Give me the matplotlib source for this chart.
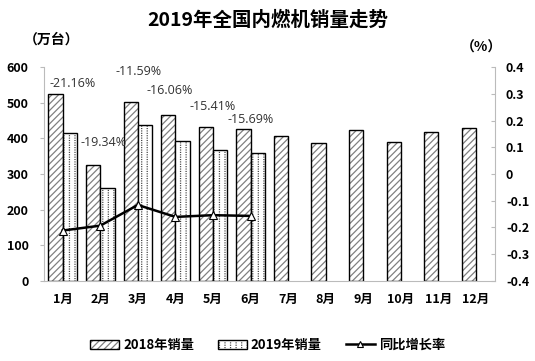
import matplotlib
matplotlib.use("Agg")
from matplotlib import pyplot as plt
from matplotlib.patches import Patch
from matplotlib.lines import Line2D
import numpy as np

plt.rcParams['font.family'] = ['Noto Sans CJK SC', 'DejaVu Sans']
plt.rcParams['hatch.linewidth'] = 0.9

months = ["1月", "2月", "3月", "4月", "5月", "6月",
          "7月", "8月", "9月", "10月", "11月", "12月"]
sales_2018 = [525, 324, 502, 466, 433, 425, 408, 387, 424, 389, 419, 429]
sales_2019 = [414, 261, 438, 392, 367, 359]
growth = [-0.2116, -0.1934, -0.1159, -0.1606, -0.1541, -0.1569]
growth_labels = ["-21.16%", "-19.34%", "-11.59%", "-16.06%", "-15.41%", "-15.69%"]
# where the labels sit (category index, left-axis value)
label_pos = [(0.27, 553), (1.1, 388), (2.03, 589), (2.85, 534), (4.0, 489), (5.0, 452)]

fig = plt.figure(figsize=(5.35, 3.61), dpi=100)
ax = fig.add_axes([0.082, 0.222, 0.843, 0.592])
ax2 = ax.twinx()

x = np.arange(len(months))
x19 = np.arange(len(sales_2019))
w = 0.38

# 2018: grey diagonal hatch, black outline
ax.bar(x - w / 2, sales_2018, w, facecolor='white', edgecolor='#808080',
       hatch='/////', linewidth=0)
ax.bar(x - w / 2, sales_2018, w, facecolor='none', edgecolor='black', linewidth=1.0)
# 2019: vertical dashed lines (vertical hatch broken by white horizontal hatch)
ax.bar(x19 + w / 2, sales_2019, w, facecolor='white', edgecolor='#404040',
       hatch='|||', linewidth=0)
ax.bar(x19 + w / 2, sales_2019, w, facecolor='none', edgecolor='white',
       hatch='-------', linewidth=0)
ax.bar(x19 + w / 2, sales_2019, w, facecolor='none', edgecolor='black', linewidth=1.0)

ax.set_xlim(-0.5, len(months) - 0.5)
ax.set_ylim(0, 600)
ax.set_yticks(range(0, 601, 100))
ax.set_xticks(x)
ax.set_xticklabels(months, fontweight='bold', fontsize=9)
ax.tick_params(axis='x', length=0, pad=9)
ax.tick_params(axis='y', labelsize=9, length=3, color='#bbbbbb', pad=8)
for lab in ax.get_yticklabels():
    lab.set_fontweight('bold')
for s in ['top', 'right']:
    ax.spines[s].set_visible(False)
for s in ['left', 'bottom']:
    ax.spines[s].set_color('#bbbbbb')

ax2.plot(x19, growth, color='black', linewidth=1.8, marker='^',
         markersize=6, markerfacecolor='white', markeredgecolor='black',
         markeredgewidth=0.8)
ax2.set_ylim(-0.4, 0.4)
ax2.set_yticks(np.round(np.arange(-0.4, 0.41, 0.1), 1))
ax2.set_yticklabels(["-0.4", "-0.3", "-0.2", "-0.1", "0", "0.1", "0.2", "0.3", "0.4"],
                    fontweight='bold', fontsize=9)
ax2.tick_params(axis='y', length=3, direction='in', color='#bbbbbb', pad=8)
for s in ['top', 'left', 'bottom']:
    ax2.spines[s].set_visible(False)
ax2.spines['right'].set_color('#bbbbbb')

for txt, (px, py) in zip(growth_labels, label_pos):
    ax.text(px, py, txt, ha='center', va='center', fontsize=9, color='#333333',
            family=['Open Sans', 'DejaVu Sans'])

fig.text(0.5, 0.945, "2019年全国内燃机销量走势", ha='center', va='center',
         fontsize=14, fontweight='bold')
fig.text(0.097, 0.89, "（万台）", ha='center', va='center', fontsize=10, fontweight='bold')
fig.text(0.9, 0.868, "（%）", ha='center', va='center', fontsize=10, fontweight='bold')

h2018 = Patch(facecolor='white', edgecolor='#808080', hatch='/////', linewidth=0)
h2018b = Patch(facecolor='none', edgecolor='black', linewidth=1.0)
h2019 = Patch(facecolor='white', edgecolor='#404040', hatch='|||', linewidth=0)
h2019w = Patch(facecolor='none', edgecolor='white', hatch='-------', linewidth=0)
h2019b = Patch(facecolor='none', edgecolor='black', linewidth=1.0)
hline = Line2D([], [], color='black', linewidth=1.8, marker='^', markersize=5,
               markerfacecolor='white', markeredgecolor='black', markeredgewidth=0.8)
fig.legend([(h2018, h2018b), (h2019, h2019w, h2019b), hline],
           ["2018年销量", "2019年销量", "同比增长率"], loc='center',
           bbox_to_anchor=(0.5, 0.045), ncol=3, frameon=False,
           prop={'size': 9.5, 'weight': 'bold'},
           handlelength=2.2, handletextpad=0.3, columnspacing=1.8)

fig.savefig("out.png", dpi=100)
